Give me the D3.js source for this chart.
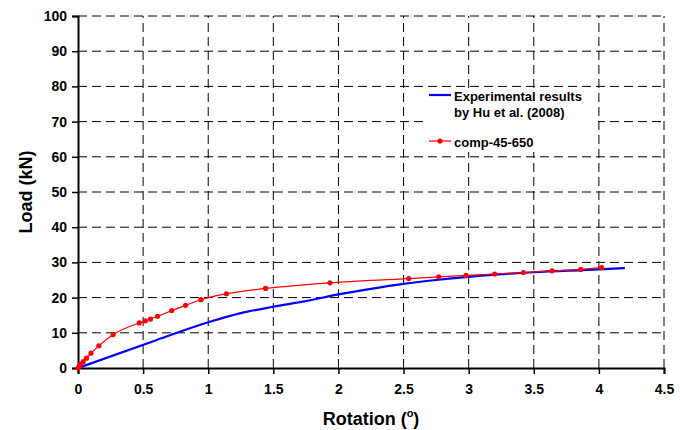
<!DOCTYPE html>
<html>
<head>
<meta charset="utf-8">
<script src="https://d3js.org/d3.v7.min.js"></script>
<style>
  body { margin: 0; background: #fff; }
  text { font-family: "Liberation Sans", Arial, sans-serif; font-weight: bold; fill: #000; }
</style>
</head>
<body>
<div id="chart"></div>
<script>
// Data
var xTicks = [0, 0.5, 1, 1.5, 2, 2.5, 3, 3.5, 4, 4.5];
var yTicks = [0, 10, 20, 30, 40, 50, 60, 70, 80, 90, 100];

// Experimental results by Hu et al. (2008): rotation (deg), load (kN)
var expRot  = [0, 0.6, 1, 1.25, 1.5, 1.75, 2, 2.25, 2.5, 2.75, 3, 3.5, 4, 4.2];
var expLoad = [0, 7.9, 13, 15.6, 17.4, 19.0, 20.9, 22.5, 23.9, 25.0, 25.9, 27.2, 28.0, 28.4];

// comp-45-650
var compRot  = [0, 0.01, 0.02, 0.04, 0.065, 0.1, 0.16, 0.27, 0.47, 0.517, 0.557, 0.611, 0.72, 0.826, 0.944, 1.14, 1.44, 1.935, 2.54, 2.77, 2.98, 3.2, 3.42, 3.64, 3.86, 4.02];
var compLoad = [0, 0.5, 1.1, 1.8, 2.8, 4.2, 6.3, 9.5, 12.8, 13.4, 13.9, 14.7, 16.3, 17.8, 19.4, 21.1, 22.6, 24.2, 25.4, 25.9, 26.3, 26.7, 27.1, 27.6, 28.0, 28.5];

var width = 680,
    height = 430,
    margin = {top: 16, right: 16, bottom: 62, left: 78};

var svg = d3.select("#chart").append("svg")
    .attr("width", width)
    .attr("height", height);

var x = d3.scaleLinear()
    .domain([0, 4.5])
    .range([margin.left, width - margin.right]);

var y = d3.scaleLinear()
    .domain([0, 100])
    .range([height - margin.bottom, margin.top]);

// Dashed grid
svg.append("g")
    .selectAll("line")
    .data(yTicks.slice(1))
  .enter().append("line")
    .attr("x1", x(0)).attr("x2", x(4.5))
    .attr("y1", d => y(d)).attr("y2", d => y(d))
    .attr("stroke", "#000").attr("stroke-width", 1)
    .attr("stroke-dasharray", "9,5");

svg.append("g")
    .selectAll("line")
    .data(xTicks.slice(1))
  .enter().append("line")
    .attr("x1", d => x(d)).attr("x2", d => x(d))
    .attr("y1", y(0)).attr("y2", y(100))
    .attr("stroke", "#000").attr("stroke-width", 1)
    .attr("stroke-dasharray", "9,5");

// Axes
var xAxis = svg.append("g")
    .attr("transform", "translate(0," + y(0) + ")")
    .call(d3.axisBottom(x).tickValues(xTicks).tickSize(6).tickPadding(10)
      .tickFormat(d3.format("")));
var yAxis = svg.append("g")
    .attr("transform", "translate(" + x(0) + ",0)")
    .call(d3.axisLeft(y).tickValues(yTicks).tickSize(6).tickPadding(5));

[xAxis, yAxis].forEach(function(a) {
  a.select(".domain").attr("stroke", "#000").attr("stroke-width", 2);
  a.selectAll(".tick line").attr("stroke", "#000").attr("stroke-width", 1.5);
  a.selectAll(".tick text")
    .attr("font-family", "Liberation Sans, Arial, sans-serif")
    .attr("font-weight", "bold")
    .attr("font-size", 14)
    .attr("fill", "#000");
});

// Axis titles
svg.append("text")
    .attr("transform", "translate(32," + (y(50)) + ") rotate(-90)")
    .attr("text-anchor", "middle")
    .attr("font-size", 18)
    .text("Load (kN)");

var xt = svg.append("text")
    .attr("x", (x(0) + x(4.5)) / 2)
    .attr("y", 425)
    .attr("text-anchor", "middle")
    .attr("font-size", 18);
xt.append("tspan").text("Rotation (");
xt.append("tspan").attr("font-size", 11).attr("dy", -8).text("o");
xt.append("tspan").attr("dy", 8).text(")");

// Series
var expData = expRot.map((r, i) => [r, expLoad[i]]);
var compData = compRot.map((r, i) => [r, compLoad[i]]);

var line = d3.line()
    .x(d => x(d[0]))
    .y(d => y(d[1]));

svg.append("path")
    .datum(expData)
    .attr("fill", "none")
    .attr("stroke", "#0000ff")
    .attr("stroke-width", 2.2)
    .attr("d", line.curve(d3.curveMonotoneX));

svg.append("path")
    .datum(compData)
    .attr("fill", "none")
    .attr("stroke", "#ff0000")
    .attr("stroke-width", 1.2)
    .attr("d", line.curve(d3.curveMonotoneX));

svg.append("g")
    .selectAll("circle")
    .data(compData)
  .enter().append("circle")
    .attr("cx", d => x(d[0]))
    .attr("cy", d => y(d[1]))
    .attr("r", 2.6)
    .attr("fill", "#ff0000");

// Legend (white box over the grid)
var lg = svg.append("g");
lg.append("rect")
    .attr("x", 425).attr("y", 88)
    .attr("width", 173).attr("height", 64)
    .attr("fill", "#fff");

lg.append("line")
    .attr("x1", 429).attr("x2", 451)
    .attr("y1", 95).attr("y2", 95)
    .attr("stroke", "#0000ff").attr("stroke-width", 2.2);
lg.append("text").attr("x", 454).attr("y", 101).attr("font-size", 13)
    .text("Experimental results");
lg.append("text").attr("x", 454).attr("y", 117).attr("font-size", 13)
    .text("by Hu et al. (2008)");

lg.append("line")
    .attr("x1", 429).attr("x2", 451)
    .attr("y1", 141).attr("y2", 141)
    .attr("stroke", "#ff0000").attr("stroke-width", 1.2);
lg.append("circle")
    .attr("cx", 440).attr("cy", 141).attr("r", 2.6)
    .attr("fill", "#ff0000");
lg.append("text").attr("x", 454).attr("y", 147).attr("font-size", 13)
    .text("comp-45-650");
</script>
</body>
</html>
